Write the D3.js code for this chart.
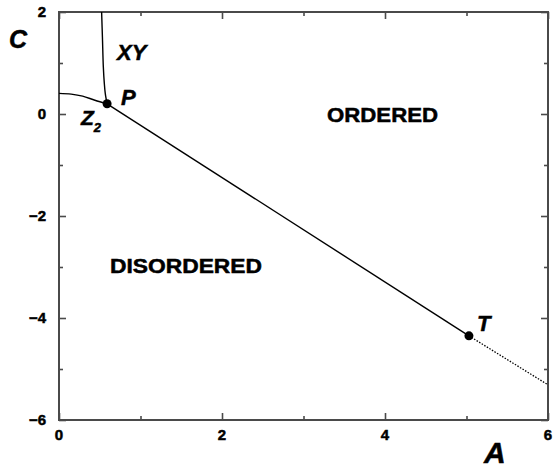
<!DOCTYPE html>
<html>
<head>
<meta charset="utf-8">
<script src="https://cdn.jsdelivr.net/npm/d3@7"></script>
<style>
  body { margin: 0; background: #fff; }
  text { font-family: "Liberation Sans", Arial, Helvetica, sans-serif; font-weight: bold; stroke: #000; stroke-width: 0.5; }
</style>
</head>
<body>
<svg id="chart" width="555" height="470"></svg>
<script>
// phase boundaries (A on x, C on y)
const xyA = [0.523, 0.533, 0.544, 0.556, 0.568, 0.59];
const xyC = [2.0, 1.5, 0.92, 0.6, 0.4, 0.2];
const z2A = [0, 0.15, 0.29, 0.44, 0.59];
const z2C = [0.405, 0.39, 0.35, 0.27, 0.2];
const firstOrderA = [0.59, 5.03];
const firstOrderC = [0.2, -4.35];
const dottedA = [5.03, 6];
const dottedC = [-4.35, -5.31];
const pointNames = ["P", "T"];
const pointA = [0.59, 5.03];
const pointC = [0.2, -4.35];
const xTicks = [0, 2, 4, 6];
const yTicks = [2, 0, -2, -4, -6];
const xMinor = [1, 3, 5];
const yMinor = [1, -1, -3, -5];

const svg = d3.select("#chart");
const x = d3.scaleLinear().domain([0, 6]).range([59, 548]);
const y = d3.scaleLinear().domain([-6, 2]).range([420, 12]);

const zip = (as, cs) => as.map((a, i) => [a, cs[i]]);
const line = d3.line().x(d => x(d[0])).y(d => y(d[1]));
const curve = d3.line().x(d => x(d[0])).y(d => y(d[1])).curve(d3.curveCatmullRom);

// frame with inward ticks on all four sides
const axisColor = "#4a4a4a";
function frameAxis(axis, transform, ticks, size) {
    const g = svg.append("g")
        .attr("transform", transform)
        .call(axis.tickValues(ticks).tickSize(size).tickFormat(""));
    g.select(".domain").remove();
    g.selectAll("line").attr("stroke", axisColor).attr("stroke-width", 1.6);
}
frameAxis(d3.axisTop(x), "translate(0,420)", xTicks, 7);
frameAxis(d3.axisTop(x), "translate(0,420)", xMinor, 4);
frameAxis(d3.axisBottom(x), "translate(0,12)", xTicks, 7);
frameAxis(d3.axisBottom(x), "translate(0,12)", xMinor, 4);
frameAxis(d3.axisRight(y), "translate(59,0)", yTicks, 7);
frameAxis(d3.axisRight(y), "translate(59,0)", yMinor, 4);
frameAxis(d3.axisLeft(y), "translate(548,0)", yTicks, 7);
frameAxis(d3.axisLeft(y), "translate(548,0)", yMinor, 4);

svg.append("rect")
    .attr("x", x(0)).attr("y", y(2))
    .attr("width", x(6) - x(0)).attr("height", y(-6) - y(2))
    .attr("fill", "none").attr("stroke", axisColor).attr("stroke-width", 2);

// tick labels
svg.selectAll(".xlab").data(xTicks).enter().append("text")
    .attr("x", d => x(d)).attr("y", 440)
    .attr("text-anchor", "middle").attr("font-size", 15)
    .text(d => d);
svg.selectAll(".ylab").data(yTicks).enter().append("text")
    .attr("x", 46).attr("y", d => y(d) + 5)
    .attr("text-anchor", "end").attr("font-size", 15)
    .text(d => d < 0 ? "\u2212" + (-d) : d);

// axis titles
svg.append("text").attr("x", 9).attr("y", 48)
    .attr("font-size", 25).attr("font-style", "italic").text("C");
svg.append("text").attr("x", 484).attr("y", 463)
    .attr("font-size", 30).attr("font-style", "italic").text("A");

// boundaries
svg.append("path").datum(zip(xyA, xyC)).attr("d", curve)
    .attr("fill", "none").attr("stroke", "#000").attr("stroke-width", 1.4);
svg.append("path").datum(zip(z2A, z2C)).attr("d", curve)
    .attr("fill", "none").attr("stroke", "#000").attr("stroke-width", 1.4);
svg.append("path").datum(zip(firstOrderA, firstOrderC)).attr("d", line)
    .attr("fill", "none").attr("stroke", "#000").attr("stroke-width", 1.4);
svg.append("path").datum(zip(dottedA, dottedC)).attr("d", line)
    .attr("fill", "none").attr("stroke", "#000").attr("stroke-width", 1.3)
    .attr("stroke-dasharray", "1.5,1.5");

svg.selectAll(".pt").data(pointA).enter().append("circle")
    .attr("cx", d => x(d)).attr("cy", (d, i) => y(pointC[i]))
    .attr("r", 4.5).attr("fill", "#000");

// region and point labels
svg.append("text").attr("x", 117).attr("y", 60)
    .attr("font-size", 22).attr("font-style", "italic").text("XY");
svg.append("text").attr("x", 121).attr("y", 105)
    .attr("font-size", 22).attr("font-style", "italic").text(pointNames[0]);
svg.append("text").attr("x", 477).attr("y", 331)
    .attr("font-size", 22).attr("font-style", "italic").text(pointNames[1]);
const z2 = svg.append("text").attr("x", 81).attr("y", 125)
    .attr("font-size", 21).attr("font-style", "italic");
z2.append("tspan").text("Z");
z2.append("tspan").attr("font-size", 13).attr("dy", 7).text("2");

svg.append("text").attr("x", 327).attr("y", 122)
    .attr("font-size", 20).attr("textLength", 111)
    .attr("lengthAdjust", "spacingAndGlyphs").text("ORDERED");
svg.append("text").attr("x", 110).attr("y", 273)
    .attr("font-size", 20).attr("textLength", 152)
    .attr("lengthAdjust", "spacingAndGlyphs").text("DISORDERED");
</script>
</body>
</html>
